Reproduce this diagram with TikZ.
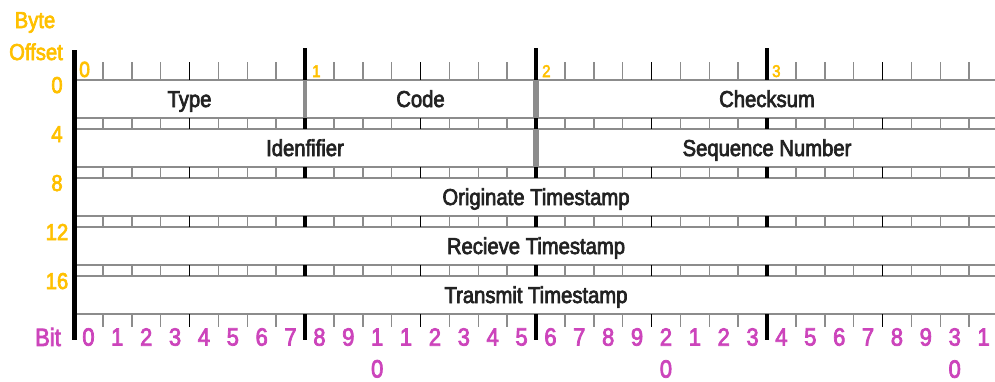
\documentclass[tikz,border=0pt]{standalone}
\usepackage{fontspec}
\setmainfont{Liberation Sans}[FakeStretch=0.88, FakeBold=3]
\usepackage{tikz}
\usetikzlibrary{positioning}

\definecolor{offsetgold}{HTML}{FFC000}
\definecolor{bitpink}{HTML}{CC44BB}
\definecolor{fieldtext}{HTML}{222222}
\definecolor{rulegray}{HTML}{8C8C8C}

\tikzset{
	offsetlabel/.style={text=offsetgold, font=\fontsize{23}{24}\selectfont, inner sep=0pt, anchor=base},
	bytelabel/.style={text=offsetgold, font=\fontsize{17}{18}\selectfont, inner sep=0pt, anchor=base west},
	bitlabel/.style={text=bitpink, font=\fontsize{25}{26}\selectfont, inner sep=0pt},
	fieldlabel/.style={text=fieldtext, font=\fontsize{23}{24}\selectfont, inner sep=0pt, anchor=base},
	rowline/.style={draw=rulegray, line width=2pt},
	graytick/.style={draw=rulegray, line width=1.5pt},
	halftick/.style={draw=black, line width=1.5pt},
	bytetick/.style={draw=black, line width=4pt},
	fieldsep/.style={draw=rulegray, line width=4pt}
}

\begin{document}
\begin{tikzpicture}[x=1pt, y=-1pt]
				\useasboundingbox (0,0) rectangle (995,381);

				% rows and the strips between them
				\foreach \r in {0,...,4} {
					\draw [rowline] (74,{80+49*\r}) -- (998,{80+49*\r});
					\draw [rowline] (74,{118+49*\r}) -- (998,{118+49*\r});
				}

				% field borders
				\draw [fieldsep] (305,80) -- (305,118);
				\draw [fieldsep] [line width=6pt] (536,80) -- (536,118);
				\draw [fieldsep] [line width=6pt] (536,129) -- (536,167);

				% bit ticks
				\foreach \k in {1,2,3,5,6,7,9,10,11,13,14,15,17,18,19,21,22,23,25,26,27,29,30,31} {
					\draw [graytick] ({74+28.875*\k},62) -- ({74+28.875*\k},80);
					\draw [graytick] ({74+28.875*\k},314) -- ({74+28.875*\k},327);
					\foreach \s in {0,...,3}
						\draw [graytick] ({74+28.875*\k},{118+49*\s}) -- ({74+28.875*\k},{129+49*\s});
				}
				\foreach \k in {4,12,20,28} {
					\draw [halftick] ({74+28.875*\k},62) -- ({74+28.875*\k},80);
					\draw [halftick] ({74+28.875*\k},314) -- ({74+28.875*\k},327);
					\foreach \s in {0,...,3}
						\draw [halftick] ({74+28.875*\k},{118+49*\s}) -- ({74+28.875*\k},{129+49*\s});
				}
				\foreach \k in {8,16,24} {
					\draw [bytetick] ({74+28.875*\k},48) -- ({74+28.875*\k},80);
					\draw [bytetick] ({74+28.875*\k},314) -- ({74+28.875*\k},340);
					\foreach \s in {0,...,3}
						\draw [bytetick] ({74+28.875*\k},{118+49*\s}) -- ({74+28.875*\k},{129+49*\s});
				}
				\draw [line width=5pt] (74,50) -- (74,340);

				% byte offsets
				\node [offsetlabel] (byte) at (35,28) {Byte};
				\node [offsetlabel] (offset) at (36,60) {Offset};
				\foreach \r/\o in {0/0,1/4,2/8,3/12,4/16}
					\node [offsetlabel] (off\o) at (57,{93+49*\r}) {\o};

				\node [bytelabel] [font=\fontsize{22}{23}\selectfont] (byte0) at (79,77) {0};
				\node [bytelabel] (byte1) at (312,77) {1};
				\node [bytelabel] (byte2) at (542,77) {2};
				\node [bytelabel] (byte3) at (772,77) {3};

				% fields
				\node [fieldlabel] (type) at (189.5,107) {Type};
				\node [fieldlabel] (code) at (420.5,107) {Code};
				\node [fieldlabel] (checksum) at (767,107) {Checksum};
				\node [fieldlabel] (ident) at (305,156) {Idenfifier};
				\node [fieldlabel] (seqnum) at (767,156) {Sequence Number};
				\node [fieldlabel] (origts) at (536,205) {Originate Timestamp};
				\node [fieldlabel] (recvts) at (536,254) {Recieve Timestamp};
				\node [fieldlabel] (transts) at (536,303) {Transmit Timestamp};

				% bit numbers
				\node [bitlabel] (bit) at (48,337) {Bit};
				\foreach \b/\d in {0/0,1/1,2/2,3/3,4/4,5/5,6/6,7/7,8/8,9/9,10/1,11/1,12/2,13/3,14/4,15/5,
						16/6,17/7,18/8,19/9,20/2,21/1,22/2,23/3,24/4,25/5,26/6,27/7,28/8,29/9,30/3,31/1}
					\node [bitlabel] (bit\b) at ({74+28.875*(\b+0.5)},337) {\d};
				\foreach \b in {10,20,30}
					\node [bitlabel] [below=14pt of bit\b] (bit\b low) {0};

\end{tikzpicture}
\end{document}
